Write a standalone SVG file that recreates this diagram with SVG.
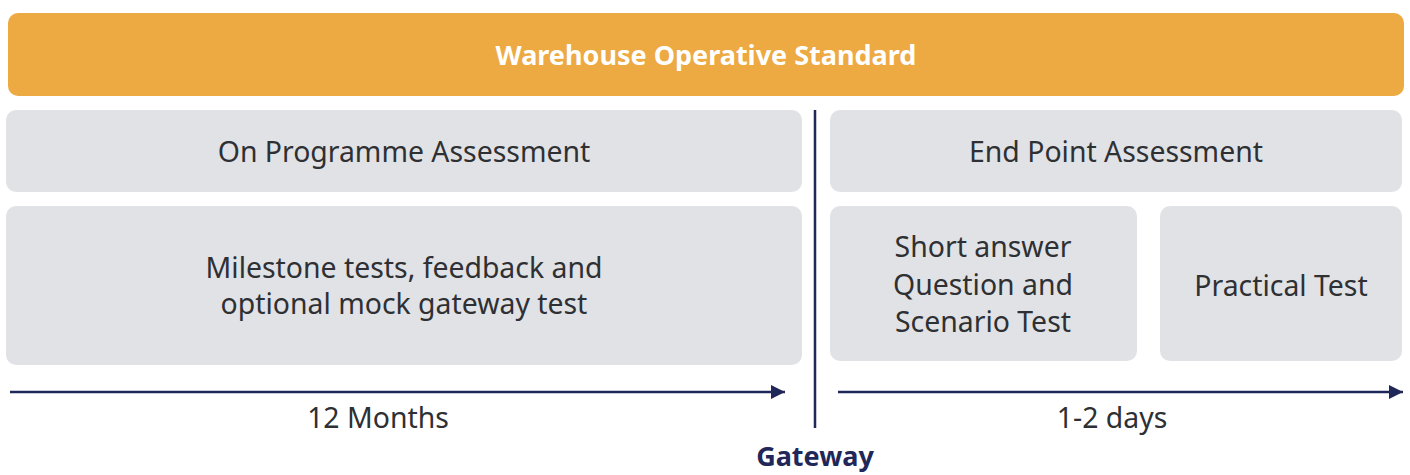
<svg xmlns="http://www.w3.org/2000/svg" width="1410" height="475" viewBox="0 0 1410 475">
<defs>
<style>
.box{fill:#e1e2e6}
.t{font-family:"Noto Sans","Open Sans",sans-serif;font-size:28.4px;fill:#2e3033;text-anchor:middle}
.line{stroke:#1f2858;stroke-width:2.5;fill:none}
</style>
<marker id="ah" viewBox="0 0 10 10" refX="10" refY="5" markerWidth="18" markerHeight="14" markerUnits="userSpaceOnUse" orient="auto"><path d="M0,0 L10,5 L0,10 z" fill="#1f2858"/></marker>
</defs>
<rect width="1410" height="475" fill="#fff"/>
<g id="title"><rect x="8" y="13" width="1396" height="83" rx="10" fill="#eda942"/><text x="706" y="65" font-family="'Noto Sans','Open Sans',sans-serif" font-size="27" font-weight="bold" fill="#fff" text-anchor="middle">Warehouse Operative Standard</text></g>
<g id="onprog"><rect class="box" x="6" y="110" width="796" height="82" rx="10"/><text class="t" x="404" y="162">On Programme Assessment</text></g>
<g id="epa"><rect class="box" x="830" y="110" width="572" height="82" rx="10"/><text class="t" x="1116" y="162">End Point Assessment</text></g>
<g id="milestone"><rect class="box" x="6" y="206" width="796" height="159" rx="10"/><text class="t" x="404" y="278">Milestone tests, feedback and</text><text class="t" x="404" y="314">optional mock gateway test</text></g>
<g id="saq"><rect class="box" x="830" y="206" width="307" height="155" rx="10"/><text class="t" x="983" y="257">Short answer</text><text class="t" x="983" y="295">Question and</text><text class="t" x="983" y="332">Scenario Test</text></g>
<g id="practical"><rect class="box" x="1160" y="206" width="242" height="155" rx="10"/><text class="t" x="1281" y="296">Practical Test</text></g>
<g id="connectors">
<line class="line" x1="815" y1="110" x2="815" y2="428"/>
<line class="line" x1="10" y1="392" x2="785" y2="392" marker-end="url(#ah)"/>
<line class="line" x1="838" y1="392" x2="1403" y2="392" marker-end="url(#ah)"/>
</g>
<g id="labels">
<text class="t" x="378" y="428">12 Months</text>
<text class="t" x="1112" y="428">1-2 days</text>
<text x="815" y="466" font-family="'Noto Sans','Open Sans',sans-serif" font-size="27" font-weight="bold" fill="#1f2858" text-anchor="middle">Gateway</text>
</g>
</svg>
